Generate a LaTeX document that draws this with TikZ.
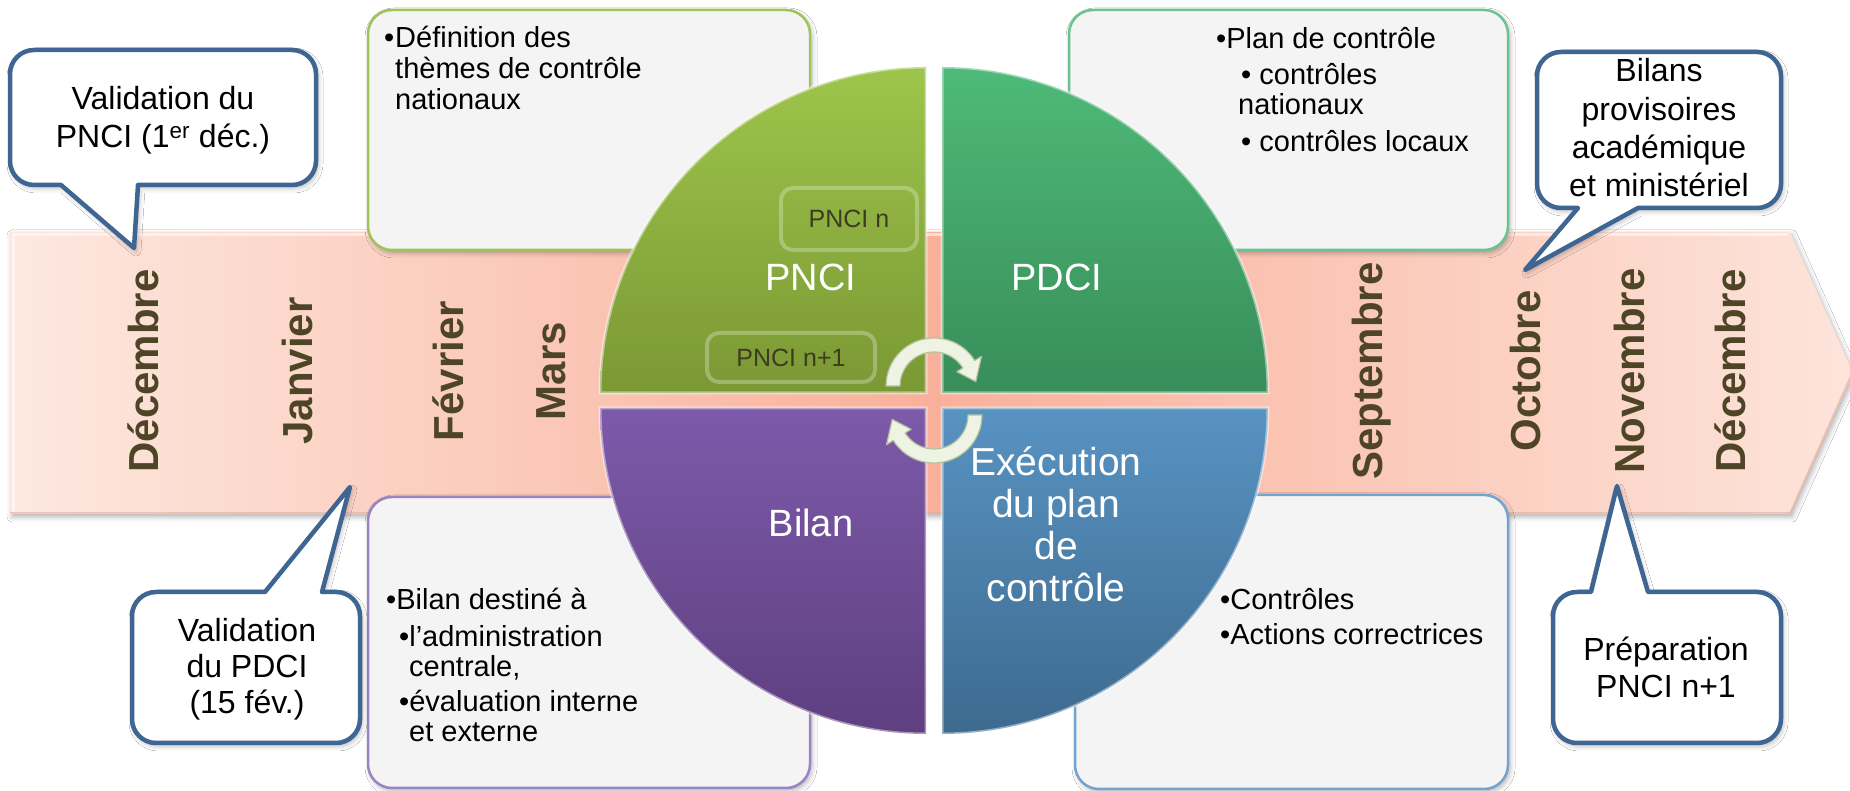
\documentclass[tikz,border=0pt]{standalone}
\usepackage{fontspec}
\setmainfont{Liberation Sans}
\usetikzlibrary{shadows.blur}

\definecolor{monthcol}{HTML}{4E4527}
\definecolor{bandL}{HTML}{FDE8E0}
\definecolor{bandM}{HTML}{F9B09A}
\definecolor{bandR}{HTML}{FDE4DB}
\definecolor{bandEdge}{HTML}{E2A896}
\definecolor{boxfill}{HTML}{F4F4F4}
\definecolor{edgeA}{HTML}{9FC35A}
\definecolor{edgeB}{HTML}{6CC290}
\definecolor{edgeC}{HTML}{9A84C4}
\definecolor{edgeD}{HTML}{74A3CF}
\definecolor{pnciT}{HTML}{9EC54B}
\definecolor{pnciB}{HTML}{7A9834}
\definecolor{pdciT}{HTML}{4EBA79}
\definecolor{pdciB}{HTML}{388D58}
\definecolor{bilT}{HTML}{7D5AAA}
\definecolor{bilB}{HTML}{5E3F80}
\definecolor{exeT}{HTML}{5893C2}
\definecolor{exeB}{HTML}{3D6A8F}
\definecolor{calloutcol}{HTML}{3F6592}
\definecolor{tagtext}{HTML}{3F3A22}
\definecolor{arrowfill}{HTML}{EEF3E3}
\definecolor{arrowedge}{HTML}{B5C29D}

\newlength\bulw
\setlength\bulw{11pt}

\begin{document}
\begin{tikzpicture}[x=1pt,y=1pt,
  softshadow/.style={blur shadow={shadow xshift=2pt,shadow yshift=-3pt,shadow blur radius=5pt,shadow opacity=30}},
  band/.style={softshadow, left color=bandL, right color=bandR, middle color=bandM},
  month/.style={rotate=90, anchor=base, inner sep=0pt, text=monthcol, font=\fontsize{42}{50}\selectfont\bfseries},
  infobox/.style={softshadow, rounded corners=24pt, line width=2.5pt, fill=boxfill, inner sep=0pt},
  boxtext/.style={anchor=base west, inner sep=0pt, font=\fontsize{29}{30}\selectfont},
  quad/.style={draw=white, draw opacity=0.45, line width=3pt},
  qlabel/.style={inner sep=0pt, text=white, font=\fontsize{38}{42}\selectfont},
  tag/.style={rounded corners=12pt, draw=white, draw opacity=0.28, line width=4pt, inner sep=0pt, text=tagtext, font=\fontsize{25}{30}\selectfont},
  cycarrow/.style={fill=arrowfill, draw=arrowedge, line width=1.2pt, line join=round},
  callout/.style={softshadow, fill=white, draw=calloutcol, line width=4.5pt, line join=round},
  ctext/.style={anchor=base, inner sep=0pt, font=\fontsize{32}{37}\selectfont},
]
\useasboundingbox (0,0) rectangle (1850,791);
\fill[white] (0,0) rectangle (1850,791);

% timeline arrow with a light bevel
\path[band] (10,277) -- (10,559) -- (1790,559) -- (1853,418) -- (1790,277) -- cycle;
\draw[white, opacity=0.55, line width=3pt] (13,280) -- (13,556) -- (1788,556);
\draw[bandEdge, opacity=0.6, line width=1.5pt] (10,278) -- (1790,278) -- (1852,418);

% months
\node[month] (m1) at (158,420) {Décembre};
\node[month] (m2) at (312,420) {Janvier};
\node[month] (m3) at (463,420) {Février};
\node[month] (m4) at (565,420) {Mars};
\node[month] (m5) at (1382,420) {Septembre};
\node[month] (m6) at (1540,420) {Octobre};
\node[month] (m7) at (1644,420) {Novembre};
\node[month] (m8) at (1745,420) {Décembre};

% description boxes
\node[infobox, draw=edgeA, minimum width=442pt, minimum height=240pt] (boxA) at (589,661) {};
\node[infobox, draw=edgeB, minimum width=439pt, minimum height=240pt] (boxB) at (1288.5,661) {};
\node[infobox, draw=edgeC, minimum width=442pt, minimum height=291pt] (boxC) at (589,148.5) {};
\node[infobox, draw=edgeD, minimum width=433pt, minimum height=294pt] (boxD) at (1291.5,149) {};

\node[boxtext] (tA) at (384,743) {\parbox[t]{420pt}{\raggedright\fontsize{29}{31}\selectfont
\makebox[\bulw][l]{•}Définition des\\
\hspace*{\bulw}thèmes de contrôle\\
\hspace*{\bulw}nationaux}};

\node[boxtext] (tB) at (1216,742) {\parbox[t]{300pt}{\raggedright\fontsize{29}{30}\selectfont
•Plan de contrôle\\[6pt]
\hspace*{25pt}• contrôles\\
\hspace*{22pt}nationaux\\[7pt]
\hspace*{25pt}• contrôles locaux}};

\node[boxtext] (tC) at (386,181) {\parbox[t]{420pt}{\raggedright\fontsize{29}{30}\selectfont
•Bilan destiné à\\[7pt]
\hspace*{13pt}•l’administration\\
\hspace*{23pt}centrale,\\[5pt]
\hspace*{13pt}•évaluation interne\\
\hspace*{23pt}et externe}};

\node[boxtext] (tD) at (1220,181) {\parbox[t]{300pt}{\raggedright\fontsize{29}{30}\selectfont
•Contrôles\\[5pt]
•Actions correctrices}};

% cycle quadrants
\path[quad, top color=pnciT, bottom color=pnciB] (926,398) -- (600,398) arc[start angle=180, end angle=90, radius=326] -- cycle;
\path[quad, top color=pdciT, bottom color=pdciB] (942,398) -- (942,724) arc[start angle=90, end angle=0, radius=326] -- cycle;
\path[quad, top color=bilT, bottom color=bilB] (926,383) -- (600,383) arc[start angle=180, end angle=270, radius=326] -- cycle;
\path[quad, top color=exeT, bottom color=exeB] (942,383) -- (942,57) arc[start angle=270, end angle=360, radius=326] -- cycle;

\node[tag, minimum width=136pt, minimum height=62pt] (tagn) at (849,572) {PNCI n};
\node[tag, minimum width=168pt, minimum height=49pt] (tagn1) at (791,433.5) {PNCI n+1};

\node[qlabel] (lPNCI) at (811,514) {PNCI};
\node[qlabel] (lPDCI) at (1057,514) {PDCI};
\node[qlabel] (lBilan) at (811,268) {Bilan};
\node[qlabel, anchor=base] (lExe) at (1056,315) {\parbox[t]{220pt}{\centering\fontsize{39}{41.7}\selectfont Exécution\\du plan\\de\\contrôle}};

% circular arrows in the middle
\begin{scope}[shift={(934,405)}]
\path[cycarrow] (180:48) arc[start angle=180, end angle=32, radius=48] -- (32:56) -- (6:42) -- (32:27) -- (32:34) arc[start angle=32, end angle=180, radius=34] -- cycle;
\end{scope}
\begin{scope}[shift={(934,376)}]
\path[cycarrow] (0:48) arc[start angle=0, end angle=-148, radius=48] -- (-148:56) -- (-174:42) -- (-148:27) -- (-148:34) arc[start angle=-148, end angle=0, radius=34] -- cycle;
\end{scope}

% callouts
\path[callout] (138,606) -- (292,606) arc[start angle=270,end angle=360,radius=24] -- (316,717) arc[start angle=0,end angle=90,radius=24] -- (34,741) arc[start angle=90,end angle=180,radius=24] -- (10,630) arc[start angle=180,end angle=270,radius=24] -- (61,606) -- (134,543) -- cycle;
\node[ctext] (c1) at (163,681) {\parbox[t]{300pt}{\centering\fontsize{32}{38}\selectfont Validation du\\PNCI (1\textsuperscript{er} déc.)}};

\path[callout] (265,199) -- (350,304) -- (322,199) -- (336,199) arc[start angle=90,end angle=0,radius=24] -- (360,72) arc[start angle=0,end angle=-90,radius=24] -- (156,48) arc[start angle=270,end angle=180,radius=24] -- (132,175) arc[start angle=180,end angle=90,radius=24] -- cycle;
\node[ctext] (c2) at (247,149) {\parbox[t]{220pt}{\centering\fontsize{32}{36}\selectfont Validation\\du PDCI\\(15 fév.)}};

\path[callout] (1638,583) -- (1757,583) arc[start angle=270,end angle=360,radius=24] -- (1781,715) arc[start angle=0,end angle=90,radius=24] -- (1561,739) arc[start angle=90,end angle=180,radius=24] -- (1537,607) arc[start angle=180,end angle=270,radius=24] -- (1578,583) -- (1525,521) -- cycle;
\node[ctext] (c3) at (1659,709) {\parbox[t]{240pt}{\centering\fontsize{32}{38.3}\selectfont Bilans\\provisoires\\académique\\et ministériel}};

\path[callout] (1591,199) -- (1617,305) -- (1648,199) -- (1757,199) arc[start angle=90,end angle=0,radius=24] -- (1781,72) arc[start angle=0,end angle=-90,radius=24] -- (1577,48) arc[start angle=270,end angle=180,radius=24] -- (1553,175) arc[start angle=180,end angle=90,radius=24] -- cycle;
\node[ctext] (c4) at (1666,130) {\parbox[t]{220pt}{\centering\fontsize{32}{37}\selectfont Préparation\\PNCI n+1}};

\end{tikzpicture}
\end{document}
